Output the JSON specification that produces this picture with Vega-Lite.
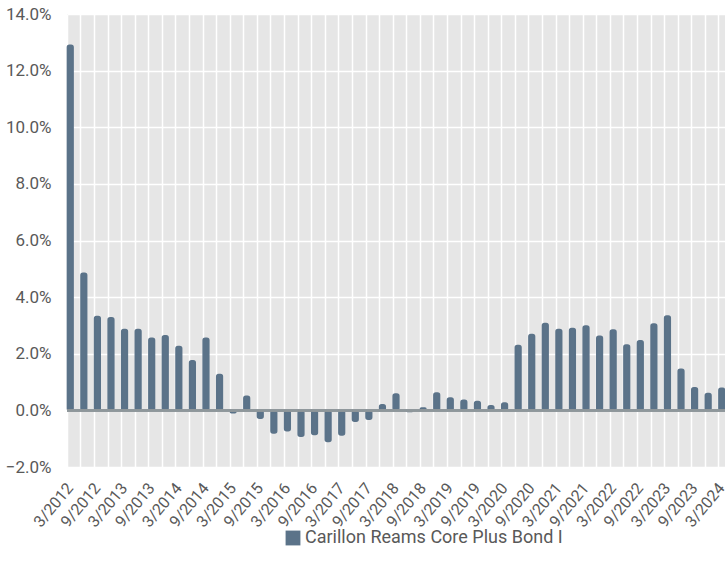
{
  "$schema": "https://vega.github.io/schema/vega-lite/v6.json",
  "width": 658,
  "height": 453,
  "autosize": {"type": "none"},
  "padding": {"left": 67, "top": 14, "right": 0, "bottom": 108},
  "background": "white",
  "config": {
    "view": {"fill": "#e6e6e6", "stroke": null},
    "font": "Roboto"
  },
  "data": {
    "values": [
      {"q": "3/2012", "v": 12.9}, {"q": "6/2012", "v": 4.84}, {"q": "9/2012", "v": 3.32}, {"q": "12/2012", "v": 3.27},
      {"q": "3/2013", "v": 2.86}, {"q": "6/2013", "v": 2.86}, {"q": "9/2013", "v": 2.55}, {"q": "12/2013", "v": 2.64},
      {"q": "3/2014", "v": 2.26}, {"q": "6/2014", "v": 1.75}, {"q": "9/2014", "v": 2.55}, {"q": "12/2014", "v": 1.27},
      {"q": "3/2015", "v": -0.08}, {"q": "6/2015", "v": 0.5}, {"q": "9/2015", "v": -0.28}, {"q": "12/2015", "v": -0.8},
      {"q": "3/2016", "v": -0.72}, {"q": "6/2016", "v": -0.91}, {"q": "9/2016", "v": -0.85}, {"q": "12/2016", "v": -1.1},
      {"q": "3/2017", "v": -0.87}, {"q": "6/2017", "v": -0.38}, {"q": "9/2017", "v": -0.31}, {"q": "12/2017", "v": 0.2},
      {"q": "3/2018", "v": 0.58}, {"q": "6/2018", "v": -0.04}, {"q": "9/2018", "v": 0.08}, {"q": "12/2018", "v": 0.61},
      {"q": "3/2019", "v": 0.44}, {"q": "6/2019", "v": 0.36}, {"q": "9/2019", "v": 0.31}, {"q": "12/2019", "v": 0.16},
      {"q": "3/2020", "v": 0.26}, {"q": "6/2020", "v": 2.29}, {"q": "9/2020", "v": 2.68}, {"q": "12/2020", "v": 3.07},
      {"q": "3/2021", "v": 2.86}, {"q": "6/2021", "v": 2.89}, {"q": "9/2021", "v": 2.98}, {"q": "12/2021", "v": 2.62},
      {"q": "3/2022", "v": 2.84}, {"q": "6/2022", "v": 2.31}, {"q": "9/2022", "v": 2.46}, {"q": "12/2022", "v": 3.05},
      {"q": "3/2023", "v": 3.33}, {"q": "6/2023", "v": 1.45}, {"q": "9/2023", "v": 0.8}, {"q": "12/2023", "v": 0.6},
      {"q": "3/2024", "v": 0.78}
    ]
  },
  "layer": [
    {
      "mark": {"type": "bar", "cornerRadius": 2, "color": "#5b7389", "stroke": "#5b7389", "strokeWidth": 1.5, "strokeJoin": "round"},
      "encoding": {
        "x": {
          "field": "q", "type": "ordinal", "sort": null, "title": null,
          "scale": {"paddingInner": 0.58, "paddingOuter": 0.03},
          "axis": {
            "bandPosition": 0,
            "grid": true, "gridColor": "white", "gridWidth": 1.5,
            "domain": false, "ticks": false,
            "labelAngle": -50, "labelAlign": "right", "labelBaseline": "middle",
            "labelFontSize": 16, "labelColor": "#595959", "labelPadding": 18,
            "labelOverlap": false,
            "labelExpr": "(indexof(datum.label, '3/') == 0 || indexof(datum.label, '9/') == 0) ? datum.label : ''"
          }
        },
        "y": {
          "field": "v", "type": "quantitative", "title": null,
          "scale": {"domain": [-2, 14], "nice": false},
          "axis": {
            "values": [-2, 0, 2, 4, 6, 8, 10, 12, 14],
            "grid": true, "gridColor": "white", "gridWidth": 1.5,
            "domain": false, "ticks": false,
            "labelFontSize": 17, "labelColor": "#595959", "labelPadding": 16,
            "labelExpr": "format(datum.value, '.1f') + '%'"
          }
        },
        "color": {
          "datum": "Carillon Reams Core Plus Bond I",
          "scale": {"range": ["#5b7389"]},
          "legend": {
            "title": null, "orient": "none", "legendX": 217, "legendY": 515,
            "symbolType": "square", "symbolSize": 220, "symbolStrokeWidth": 0,
            "labelFontSize": 18, "labelColor": "#595959", "labelOffset": 3, "labelLimit": 500
          }
        }
      }
    },
    {
      "mark": {"type": "rule", "color": "#8e979b", "strokeWidth": 1.5},
      "encoding": {"y": {"datum": 0}}
    }
  ]
}
